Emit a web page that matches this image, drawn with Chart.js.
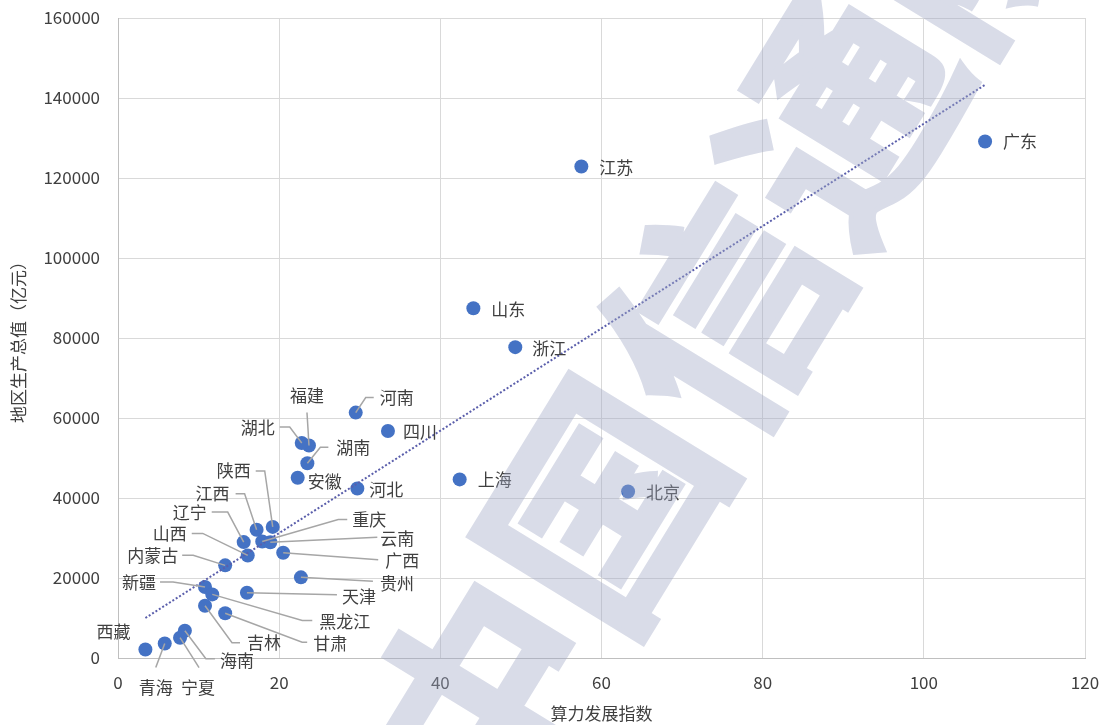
<!DOCTYPE html>
<html>
<head>
<meta charset="utf-8">
<script src="https://cdn.jsdelivr.net/npm/chart.js@4.4.0/dist/chart.umd.min.js"></script>
<style>
    html, body { margin: 0; padding: 0; background: #ffffff; }
</style>
</head>
<body>
<canvas id="scatter-chart" width="1103" height="725"></canvas>
<script>
// Provinces, compute index (x) and GDP in 亿元 (y)
const provinces = ['广东', '江苏', '山东', '浙江', '河南', '四川', '福建', '湖北', '湖南', '安徽',
    '河北', '上海', '北京', '陕西', '江西', '辽宁', '重庆', '云南', '山西', '广西',
    '内蒙古', '贵州', '新疆', '天津', '黑龙江', '吉林', '甘肃', '海南', '宁夏', '青海', '西藏'];
const computeIndex = [107.6, 57.5, 44.1, 49.3, 29.5, 33.5, 23.7, 22.8, 23.5, 22.3,
    29.7, 42.4, 63.3, 19.2, 17.2, 15.6, 17.9, 18.9, 16.1, 20.5,
    13.3, 22.7, 10.8, 16.0, 11.7, 10.8, 13.3, 8.3, 7.7, 5.8, 3.4];
const gdp = [129119, 122876, 87435, 77715, 61345, 56750, 53110, 53735, 48670, 45045,
    42370, 44653, 41611, 32773, 32075, 28975, 29129, 28954, 25643, 26301,
    23159, 20165, 17741, 16311, 15901, 13070, 11201, 6818, 5070, 3610, 2133];

// Linear trend line end points
const trendX = [3.4, 107.6];
const trendY = [10000, 143300];

// Label placement (pixel offsets from the point) and leader line bends
const labelLayout = {
    '广东': { dx: 18, dy: 0 },
    '江苏': { dx: 18, dy: 1 },
    '山东': { dx: 18, dy: 1 },
    '浙江': { dx: 17, dy: 1 },
    '河南': { dx: 24, dy: -15, lead: [[10, -15], [18, -15]] },
    '四川': { dx: 15, dy: 1 },
    '福建': { dx: -2, dy: -50, align: 'center', lead: [[-2, -33]] },
    '湖北': { dx: -27, dy: -16, align: 'right', lead: [[-12, -16], [-22, -16]] },
    '湖南': { dx: 29, dy: -16, lead: [[13, -16], [21, -16]] },
    '安徽': { dx: 10, dy: 4 },
    '河北': { dx: 12, dy: 1 },
    '上海': { dx: 18, dy: 0 },
    '北京': { dx: 18, dy: 1 },
    '陕西': { dx: -22, dy: -56, align: 'right', lead: [[-8, -56], [-17, -56]] },
    '江西': { dx: -27, dy: -36, align: 'right', lead: [[-12, -36], [-21, -36]] },
    '辽宁': { dx: -37, dy: -30, align: 'right', lead: [[-16, -30], [-32, -30]] },
    '重庆': { dx: 90, dy: -22, lead: [[76, -22], [85, -22]] },
    '云南': { dx: 110, dy: -4, lead: [[107, -5]] },
    '山西': { dx: -61, dy: -22, align: 'right', lead: [[-45, -22], [-56, -22]] },
    '广西': { dx: 102, dy: 8, lead: [[95, 7]] },
    '内蒙古': { dx: -47, dy: -10, align: 'right', lead: [[-32, -10], [-43, -10]] },
    '贵州': { dx: 79, dy: 6, lead: [[72, 4]] },
    '新疆': { dx: -49, dy: -4, align: 'right', lead: [[-32, -5], [-45, -5]] },
    '天津': { dx: 95, dy: 4, lead: [[90, 2]] },
    '黑龙江': { dx: 107, dy: 27, lead: [[90, 26], [100, 26]] },
    '吉林': { dx: 42, dy: 37, lead: [[27, 37], [35, 37]] },
    '甘肃': { dx: 88, dy: 30, lead: [[77, 29], [82, 29]] },
    '海南': { dx: 35, dy: 30, lead: [[21, 28], [30, 28]] },
    '宁夏': { dx: 18, dy: 50, align: 'center', lead: [[19, 30]] },
    '青海': { dx: -9, dy: 44, align: 'center', lead: [[-9, 24]] },
    '西藏': { dx: -32, dy: -18, align: 'center' }
};

const fontFamily = '"Noto Sans CJK SC", "Noto Sans", sans-serif';
const textColor = '#404040';

// Draws province names with gray leader lines
const provinceLabels = {
    id: 'provinceLabels',
    afterDatasetsDraw(chart) {
        const ctx = chart.ctx;
        const meta = chart.getDatasetMeta(1);
        ctx.save();
        ctx.font = '17px ' + fontFamily;
        ctx.textBaseline = 'middle';
        meta.data.forEach((pt, i) => {
            const name = provinces[i];
            const spec = labelLayout[name];
            if (!spec) return;
            if (spec.lead) {
                ctx.beginPath();
                ctx.moveTo(pt.x, pt.y);
                spec.lead.forEach(([lx, ly]) => ctx.lineTo(pt.x + lx, pt.y + ly));
                ctx.strokeStyle = '#a6a6a6';
                ctx.lineWidth = 1.5;
                ctx.stroke();
            }
            ctx.fillStyle = textColor;
            ctx.textAlign = spec.align || 'left';
            ctx.fillText(name, pt.x + spec.dx, pt.y + spec.dy);
        });
        ctx.restore();
    }
};

// Big diagonal watermark text over the plot (drawn opaque off-screen, then blended)
const watermark = {
    id: 'watermark',
    afterDraw(chart) {
        const ctx = chart.ctx;
        const off = document.createElement('canvas');
        off.width = chart.width;
        off.height = chart.height;
        const oc = off.getContext('2d');
        oc.translate(424, 797);
        oc.rotate(-58.5 * Math.PI / 180);
        oc.font = 'bold 228px ' + fontFamily;
        oc.textAlign = 'left';
        oc.textBaseline = 'middle';
        oc.fillStyle = 'rgb(160, 168, 198)';
        oc.strokeStyle = 'rgb(160, 168, 198)';
        oc.lineWidth = 5;
        oc.fillText('中国信通院', 0, 0);
        oc.strokeText('中国信通院', 0, 0);
        ctx.save();
        ctx.globalAlpha = 0.4;
        ctx.drawImage(off, 0, 0);
        ctx.restore();
    }
};

const chartCtx = document.getElementById('scatter-chart');
new Chart(chartCtx, {
    type: 'scatter',
    data: {
        datasets: [{
            label: '线性趋势线',
            type: 'line',
            data: trendX.map((x, i) => ({ x: x, y: trendY[i] })),
            borderColor: '#5a5eab',
            borderWidth: 2,
            borderDash: [2, 2],
            pointRadius: 0,
            fill: false,
            order: 1
        }, {
            label: '地区生产总值',
            data: provinces.map((p, i) => ({ x: computeIndex[i], y: gdp[i] })),
            backgroundColor: '#4472C4',
            borderWidth: 0,
            pointRadius: 7,
            pointHoverRadius: 7,
            order: 2
        }]
    },
    options: {
        responsive: false,
        animation: false,
        layout: {
            padding: { top: 18, right: 18, left: 0, bottom: 0 }
        },
        plugins: {
            legend: { display: false },
            tooltip: { enabled: false }
        },
        scales: {
            x: {
                type: 'linear',
                min: 0,
                max: 120,
                grid: { color: '#d9d9d9', drawTicks: false },
                border: { color: '#bfbfbf' },
                ticks: {
                    stepSize: 20,
                    color: textColor,
                    padding: 14,
                    font: { size: 17, family: fontFamily }
                },
                title: {
                    display: true,
                    text: '算力发展指数',
                    color: textColor,
                    padding: { top: 0, bottom: 1 },
                    font: { size: 17, family: fontFamily }
                },
                afterFit: function(scale) {
                    scale.height = 67;
                    scale.paddingLeft = 0;
                    scale.paddingRight = 0;
                }
            },
            y: {
                min: 0,
                max: 160000,
                grid: { color: '#d9d9d9', drawTicks: false },
                border: { color: '#bfbfbf' },
                ticks: {
                    stepSize: 20000,
                    color: textColor,
                    padding: 18,
                    font: { size: 17, family: fontFamily },
                    callback: function(value) { return String(value); }
                },
                title: {
                    display: true,
                    text: '地区生产总值（亿元）',
                    color: textColor,
                    padding: { top: 8, bottom: 0 },
                    font: { size: 17, family: fontFamily }
                },
                afterFit: function(scale) {
                    scale.width = 118;
                    scale.paddingTop = 0;
                    scale.paddingBottom = 0;
                }
            }
        }
    },
    plugins: [provinceLabels, watermark]
});
</script>
</body>
</html>
